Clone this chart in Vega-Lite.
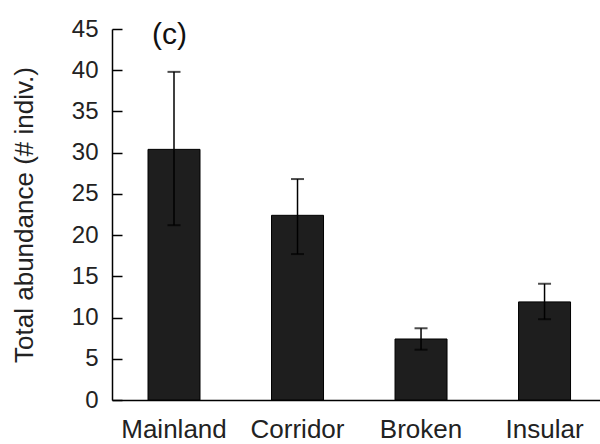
{
  "$schema": "https://vega.github.io/schema/vega-lite/v6.json",
  "autosize": "none",
  "width": 488,
  "height": 371,
  "padding": {"left": 112, "top": 29, "right": 0, "bottom": 44},
  "background": "white",
  "config": {
    "font": "Liberation Sans",
    "view": {"stroke": null}
  },
  "title": {"text": "(c)", "anchor": "start", "frame": "group", "dx": 40, "dy": 37, "fontSize": 30, "fontWeight": "normal", "font": "Liberation Sans", "color": "#111"},
  "data": {
    "values": [
      {"site": "Mainland", "mean": 30.4, "lo": 21.2, "hi": 39.8},
      {"site": "Corridor", "mean": 22.4, "lo": 17.7, "hi": 26.8},
      {"site": "Broken", "mean": 7.4, "lo": 6.1, "hi": 8.7},
      {"site": "Insular", "mean": 11.9, "lo": 9.8, "hi": 14.1}
    ]
  },
  "encoding": {
    "x": {
      "field": "site", "type": "nominal", "sort": null,
      "scale": {"paddingInner": 0.579, "paddingOuter": 0.265, "align": 0.55},
      "axis": {"title": null, "labelAngle": 0, "ticks": false, "labelFontSize": 26, "labelPadding": 16, "labelColor": "#222", "domainColor": "#000", "domainWidth": 1.5}
    }
  },
  "layer": [
    {
      "mark": {"type": "bar", "fill": "#1e1e1e", "stroke": "#000", "strokeWidth": 1},
      "encoding": {
        "y": {
          "field": "mean", "type": "quantitative",
          "scale": {"domain": [0, 45], "nice": false},
          "axis": {"title": "Total abundance (# indiv.)", "titleFontSize": 26, "titleFontWeight": "normal", "titleColor": "#222", "titlePadding": 34, "values": [0,5,10,15,20,25,30,35,40,45], "grid": false, "tickSize": -10, "tickColor": "#000", "tickWidth": 1.5, "labelPadding": 24, "labelFontSize": 24, "labelColor": "#222", "domainColor": "#000", "domainWidth": 1.5}
        }
      }
    },
    {
      "mark": {"type": "rule", "color": "#000", "strokeWidth": 1.5},
      "encoding": {
        "y": {"field": "lo", "type": "quantitative"},
        "y2": {"field": "hi"}
      }
    },
    {
      "mark": {"type": "tick", "color": "#000", "size": 13, "thickness": 2, "orient": "horizontal"},
      "encoding": {"y": {"field": "hi", "type": "quantitative"}}
    },
    {
      "mark": {"type": "tick", "color": "#000", "size": 13, "thickness": 2, "orient": "horizontal"},
      "encoding": {"y": {"field": "lo", "type": "quantitative"}}
    }
  ]
}
